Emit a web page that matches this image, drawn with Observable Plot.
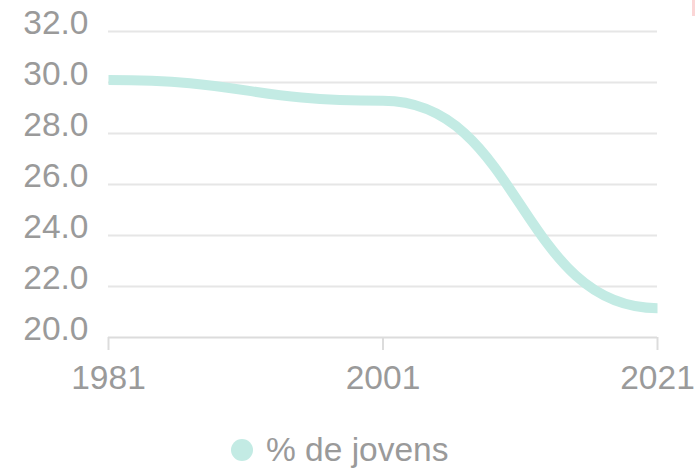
<!DOCTYPE html>
<html>
<head>
<meta charset="utf-8">
<script src="https://cdn.jsdelivr.net/npm/d3@7"></script>
<script src="https://cdn.jsdelivr.net/npm/@observablehq/plot@0.6"></script>
<style>
  html, body { margin: 0; padding: 0; background: #fff; }
  #wrap { position: relative; width: 695px; height: 471px; overflow: hidden; font-family: "Liberation Sans", Arial, sans-serif; }
  #legend { position: absolute; top: 432px; left: 231px; display: flex; align-items: center; font-size: 33.5px; line-height: 36px; color: #9a9a9a; }
  #legend .dot { width: 22px; height: 22px; border-radius: 50%; background: #c3ebe4; margin-right: 13px; }
  #corner { position: absolute; left: 692px; top: 0; width: 3px; height: 16px; background: #fbd6d6; }
</style>
</head>
<body>
<div id="wrap">
  <div id="chart"></div>
  <div id="legend"><span class="dot"></span><span>% de jovens</span></div>
  <div id="corner"></div>
</div>
<script>
const years = [1981, 2001, 2021];
const values = [30.1, 29.28, 21.15];
const seriesName = "% de jovens";
const xTicks = [1981, 2001, 2021];
const yTicks = [20, 22, 24, 26, 28, 30, 32];

const data = years.map((y, i) => ({year: y, value: values[i]}));

const chart = Plot.plot({
  width: 695,
  height: 420,
  marginLeft: 108,
  marginRight: 38,
  marginTop: 31,
  marginBottom: 83,
  style: {fontFamily: "'Liberation Sans', Arial, sans-serif", fontSize: "33.5px", color: "#9a9a9a", background: "transparent"},
  x: {domain: [1981, 2021]},
  y: {domain: [20, 32]},
  marks: [
    Plot.ruleY(yTicks.filter(v => v > 20), {stroke: "#e6e6e6", strokeWidth: 2}),
    Plot.ruleY([20], {stroke: "#dcdcdc", strokeWidth: 2}),
    Plot.axisY({ticks: yTicks, tickSize: 0, tickPadding: 20, dy: -8, tickFormat: d3.format(".1f"), fill: "#9a9a9a", label: null}),
    Plot.axisX({ticks: xTicks, tickSize: 13, tickPadding: 15, stroke: "#dcdcdc", strokeWidth: 2, tickFormat: d => String(d), fill: "#9a9a9a", label: null}),
    Plot.line(data, {x: "year", y: "value", curve: "bump-x", stroke: "#c3ebe4", strokeWidth: 10, strokeLinecap: "butt", strokeLinejoin: "round"})
  ]
});
document.getElementById("chart").appendChild(chart);
</script>
</body>
</html>
